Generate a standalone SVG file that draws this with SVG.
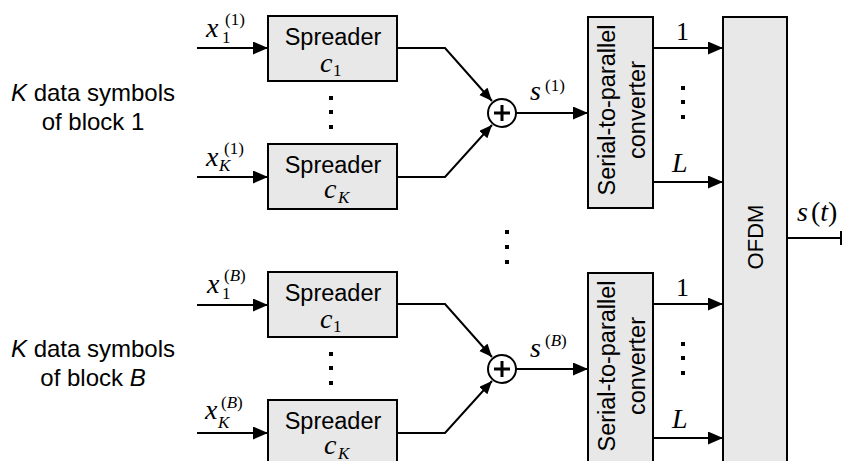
<svg xmlns="http://www.w3.org/2000/svg" width="843" height="461" viewBox="0 0 843 461">
<defs>
<marker id="ah" markerUnits="userSpaceOnUse" markerWidth="16" markerHeight="14" refX="15" refY="6.5" orient="auto">
<path d="M0,0 L15,6.5 L0,13 z" fill="#000"/>
</marker>
<marker id="ahs" markerUnits="userSpaceOnUse" markerWidth="14" markerHeight="12" refX="13" refY="5.5" orient="auto">
<path d="M0,0 L13,5.5 L0,11 z" fill="#000"/>
</marker>
</defs>
<style>
.box{fill:#e8e8e8;stroke:#000;stroke-width:2}
.ln{fill:none;stroke:#000;stroke-width:2}
.arr{fill:none;stroke:#000;stroke-width:2;marker-end:url(#ah)}
.arrs{fill:none;stroke:#000;stroke-width:2;marker-end:url(#ahs)}
.sans{font-family:"Liberation Sans",Arial,sans-serif;font-size:23.5px;fill:#000}
.ofdm{font-family:"Liberation Sans",Arial,sans-serif;font-size:22px;fill:#000}
.lab{font-family:"Liberation Sans",Arial,sans-serif;font-size:24px;fill:#000}
.mi{font-family:"Liberation Serif","Times New Roman",serif;font-size:28px;font-style:italic;fill:#000}
.mr{font-family:"Liberation Serif","Times New Roman",serif;font-size:26px;fill:#000}
.sb{font-family:"Liberation Serif","Times New Roman",serif;font-size:17px;fill:#000}
.it{font-style:italic}
.dot{fill:#000}
</style>
<rect width="843" height="461" fill="#fff"/>

<g id="label-block1">
<text class="lab" x="93" y="101" text-anchor="middle"><tspan font-style="italic">K</tspan> data symbols</text>
<text class="lab" x="93" y="130" text-anchor="middle">of block 1</text>
</g>
<g id="label-blockB">
<text class="lab" x="93" y="357" text-anchor="middle"><tspan font-style="italic">K</tspan> data symbols</text>
<text class="lab" x="93" y="386" text-anchor="middle">of block <tspan font-style="italic">B</tspan></text>
</g>

<g id="spreader-1-1">
<rect class="box" x="268" y="16" width="129" height="65"/>
<text class="sans" x="333" y="45" text-anchor="middle">Spreader</text>
<text class="mi" x="320" y="72">c</text><text class="sb" x="333" y="76">1</text>
</g>
<g id="spreader-1-K">
<rect class="box" x="268" y="144" width="129" height="65"/>
<text class="sans" x="333" y="173" text-anchor="middle">Spreader</text>
<text class="mi" x="324" y="198">c</text><text class="sb it" x="338" y="203">K</text>
</g>
<g id="spreader-B-1">
<rect class="box" x="268" y="272" width="129" height="65"/>
<text class="sans" x="333" y="301" text-anchor="middle">Spreader</text>
<text class="mi" x="320" y="328">c</text><text class="sb" x="333" y="332">1</text>
</g>
<g id="spreader-B-K">
<rect class="box" x="268" y="400" width="129" height="65"/>
<text class="sans" x="333" y="429" text-anchor="middle">Spreader</text>
<text class="mi" x="324" y="454">c</text><text class="sb it" x="338" y="459">K</text>
</g>

<g id="sum-1">
<circle cx="502" cy="113" r="14" fill="#fff" stroke="#000" stroke-width="2"/>
<path d="M494,113 H510 M502,105 V121" stroke="#000" stroke-width="3"/>
</g>
<g id="sum-B">
<circle cx="502" cy="369" r="14" fill="#fff" stroke="#000" stroke-width="2"/>
<path d="M494,369 H510 M502,361 V377" stroke="#000" stroke-width="3"/>
</g>

<g id="sp-1">
<rect class="box" x="588" y="17" width="65" height="191"/>
<text class="sans" transform="translate(615,110) rotate(-90)" text-anchor="middle">Serial-to-parallel</text>
<text class="sans" transform="translate(645,110) rotate(-90)" text-anchor="middle">converter</text>
</g>
<g id="sp-B">
<rect class="box" x="588" y="273" width="65" height="191"/>
<text class="sans" transform="translate(615,366) rotate(-90)" text-anchor="middle">Serial-to-parallel</text>
<text class="sans" transform="translate(645,366) rotate(-90)" text-anchor="middle">converter</text>
</g>

<g id="ofdm">
<rect class="box" x="723" y="17" width="64" height="460"/>
<text class="ofdm" transform="translate(763,237) rotate(-90)" text-anchor="middle">OFDM</text>
</g>

<g id="connectors">
<line class="arr" x1="197" y1="48" x2="268" y2="48"/>
<line class="arr" x1="197" y1="177" x2="268" y2="177"/>
<line class="arr" x1="197" y1="305" x2="268" y2="305"/>
<line class="arr" x1="197" y1="433" x2="268" y2="433"/>
<polyline class="arrs" points="397,48 445,48 492,101"/>
<polyline class="arrs" points="397,177 445,177 492,125"/>
<polyline class="arrs" points="397,304 445,304 492,357"/>
<polyline class="arrs" points="397,433 445,433 492,381"/>
<line class="arr" x1="516" y1="113" x2="588" y2="113"/>
<line class="arr" x1="516" y1="369" x2="588" y2="369"/>
<line class="arr" x1="653" y1="48" x2="723" y2="48"/>
<line class="arr" x1="653" y1="182" x2="723" y2="182"/>
<line class="arr" x1="653" y1="304" x2="723" y2="304"/>
<line class="arr" x1="653" y1="438" x2="723" y2="438"/>
<line class="ln" x1="787" y1="238" x2="841" y2="238"/>
<line class="ln" x1="841" y1="231" x2="841" y2="245"/>
</g>

<g id="math-labels">
<text class="mi" x="206" y="37">x</text><text class="sb" x="222" y="43">1</text><text class="sb" x="225" y="25">(1)</text>
<text class="mi" x="206" y="166">x</text><text class="sb it" x="219" y="171">K</text><text class="sb" x="224" y="154">(1)</text>
<text class="mi" x="207" y="293">x</text><text class="sb" x="222" y="299">1</text><text class="sb" x="224" y="281">(<tspan font-style="italic">B</tspan>)</text>
<text class="mi" x="205" y="419">x</text><text class="sb it" x="218" y="428">K</text><text class="sb" x="221" y="408">(<tspan font-style="italic">B</tspan>)</text>
<text class="mi" x="530" y="100">s</text><text class="sb" x="545" y="91">(1)</text>
<text class="mi" x="530" y="357">s</text><text class="sb" x="545" y="346">(<tspan font-style="italic">B</tspan>)</text>
<text class="mr" x="676" y="40">1</text>
<text class="mi" x="672" y="172">L</text>
<text class="mr" x="676" y="296">1</text>
<text class="mi" x="672" y="428">L</text>
<text class="mi" x="797" y="221">s<tspan font-style="normal" dx="3">(</tspan>t<tspan font-style="normal">)</tspan></text>
</g>

<g id="dots">
<rect class="dot" x="329" y="96" width="4" height="4"/>
<rect class="dot" x="329" y="110" width="4" height="4"/>
<rect class="dot" x="329" y="125" width="4" height="4"/>
<rect class="dot" x="329" y="352" width="4" height="4"/>
<rect class="dot" x="329" y="366" width="4" height="4"/>
<rect class="dot" x="329" y="381" width="4" height="4"/>
<rect class="dot" x="505" y="230" width="4" height="4"/>
<rect class="dot" x="505" y="245" width="4" height="4"/>
<rect class="dot" x="505" y="260" width="4" height="4"/>
<rect class="dot" x="681" y="86" width="4" height="4"/>
<rect class="dot" x="681" y="100" width="4" height="4"/>
<rect class="dot" x="681" y="115" width="4" height="4"/>
<rect class="dot" x="681" y="342" width="4" height="4"/>
<rect class="dot" x="681" y="356" width="4" height="4"/>
<rect class="dot" x="681" y="371" width="4" height="4"/>
</g>
</svg>
